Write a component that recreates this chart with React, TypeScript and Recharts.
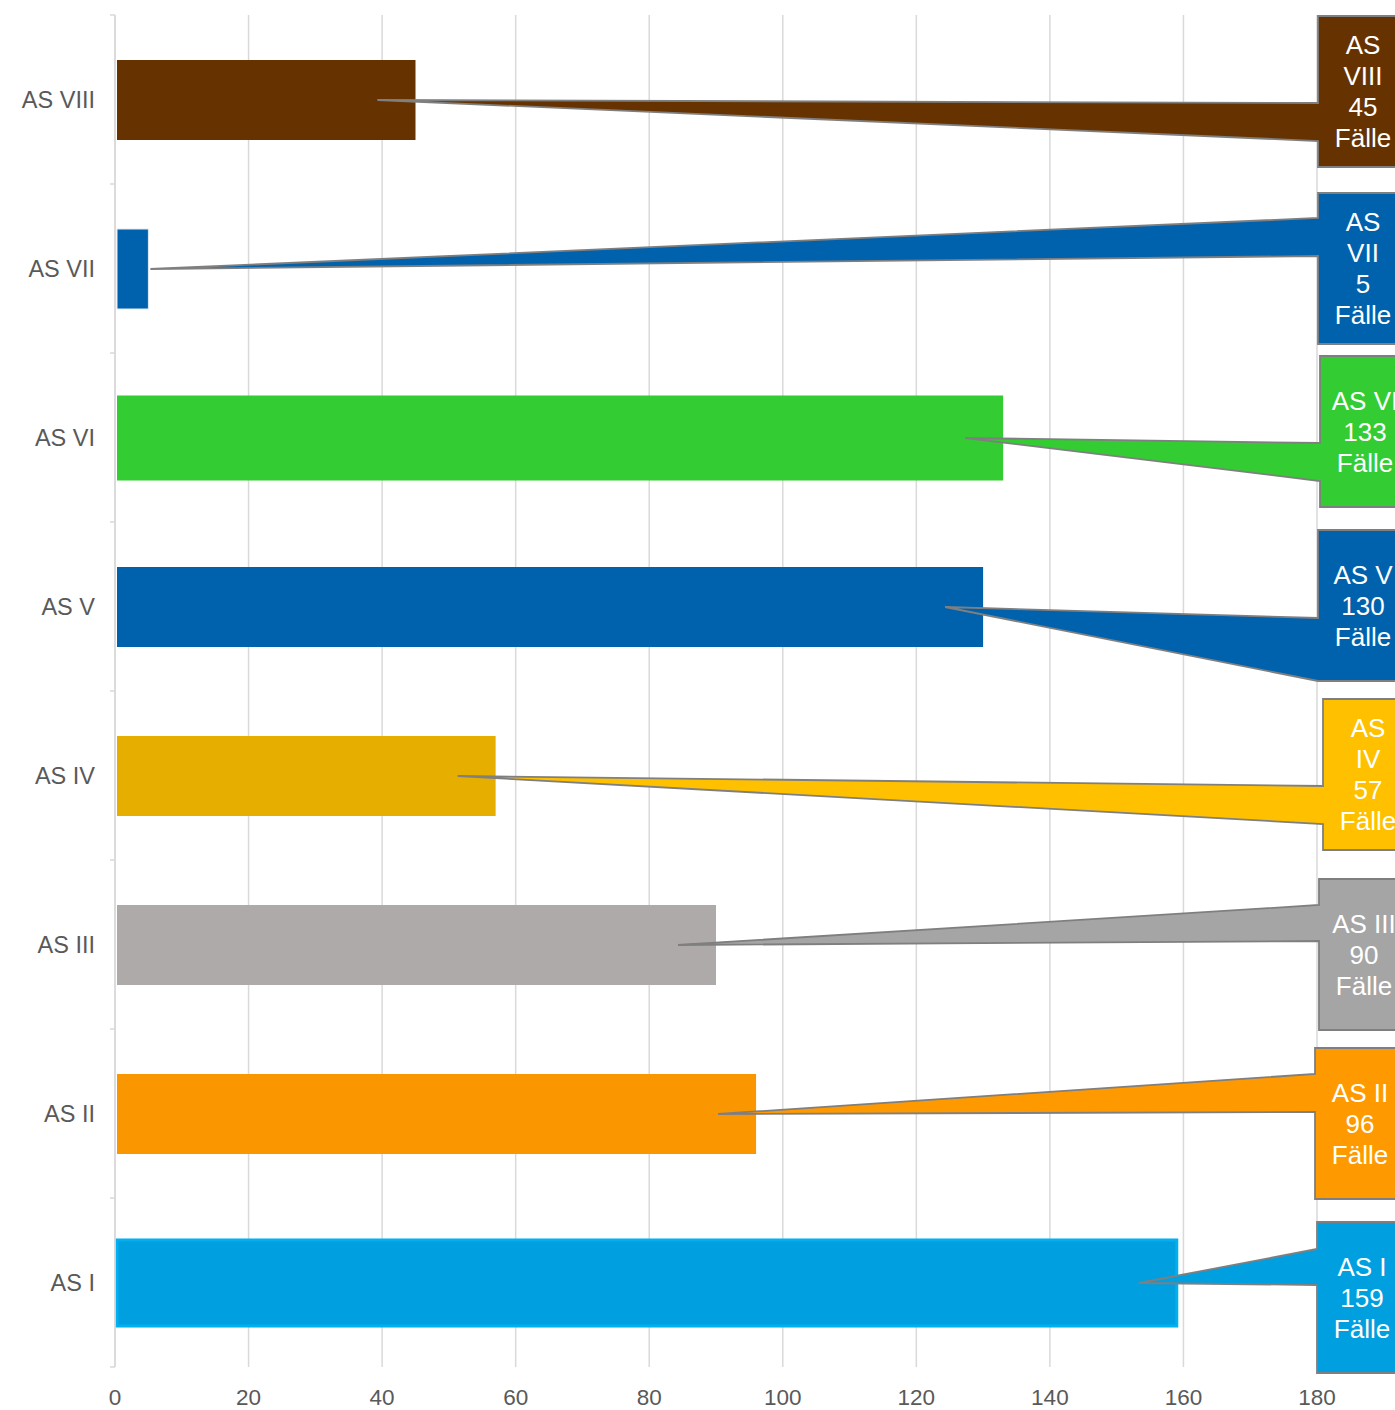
import { BarChart, Bar, XAxis, YAxis, CartesianGrid } from 'recharts'

const categories = ['AS VIII', 'AS VII', 'AS VI', 'AS V', 'AS IV', 'AS III', 'AS II', 'AS I']
const cases = [45, 5, 133, 130, 57, 90, 96, 159]
const xTicks = [0, 20, 40, 60, 80, 100, 120, 140, 160, 180]
const unitLabel = 'Fälle'

const barColors = ['#663300', '#0062AD', '#33CC33', '#0062AD', '#E6AF00', '#AEAAAA', '#FA9600', '#009FE0']
const calloutColors = ['#663300', '#0062AD', '#33CC33', '#0062AD', '#FFC000', '#A5A5A5', '#FF9900', '#009FE0']

// layout of the callout boxes (offsets in px, relative to bar center / plot right edge)
const calloutLayout = [
  { dx: 1, top: -84, wedge: [87, 125], split: true },
  { dx: 1, top: -76, wedge: [25, 63], split: true },
  { dx: 3, top: -82, wedge: [87, 125], split: false },
  { dx: 1, top: -77, wedge: [88, 151], split: false },
  { dx: 6, top: -77, wedge: [87, 125], split: true },
  { dx: 2, top: -66, wedge: [26, 62], split: false },
  { dx: -2, top: -66, wedge: [26, 64], split: false },
  { dx: 0, top: -61, wedge: [27, 63], split: false },
]
const barStyle = [
  { grow: 0, stroke: 'none', sw: 0 },
  { grow: 0, stroke: '#e3ebf5', sw: 1 },
  { grow: 2.5, stroke: 'none', sw: 0 },
  { grow: 0, stroke: 'none', sw: 0 },
  { grow: 0, stroke: 'none', sw: 0 },
  { grow: 0, stroke: 'none', sw: 0 },
  { grow: 0, stroke: 'none', sw: 0 },
  { grow: 3, stroke: '#00B0F0', sw: 3 },
]

const W = 1395
const H = 1410
const LEFT = 115
const TOP = 15
const RIGHT = 1317
const BOTTOM = 1367
const BAND = (BOTTOM - TOP) / categories.length
const FONT = '"Liberation Sans", Arial, sans-serif'

const rows = categories.map((name, i) => ({ name, value: cases[i], idx: i }))

function YTick(props: any) {
  const { y, payload, index } = props
  return (
    <g>
      <line x1={LEFT - 5} x2={LEFT} y1={y - BAND / 2} y2={y - BAND / 2} stroke="#d9d9d9" strokeWidth={1.5} />
      {index === categories.length - 1 && (
        <line x1={LEFT - 5} x2={LEFT} y1={y + BAND / 2} y2={y + BAND / 2} stroke="#d9d9d9" strokeWidth={1.5} />
      )}
      <text x={LEFT - 20} y={y} dy="0.35em" textAnchor="end" fontSize={23.5} fill="#595959" fontFamily={FONT}>
        {payload.value}
      </text>
    </g>
  )
}

function XTick(props: any) {
  const { x, payload } = props
  return (
    <text x={x} y={BOTTOM + 30} dy="0.35em" textAnchor="middle" fontSize={22.5} fill="#595959" fontFamily={FONT}>
      {payload.value}
    </text>
  )
}

function BarWithCallout(props: any) {
  const { x, y, width, height, payload } = props
  const i = payload.idx
  const st = barStyle[i]
  const lay = calloutLayout[i]
  const cy = y + height / 2
  const bx = RIGHT + lay.dx
  const top = cy + lay.top
  const bottom = top + 151
  const right = bx + 90
  const tipX = width > 60 ? x + width - 38 : x + width + 2
  const w0 = top + lay.wedge[0]
  const w1 = top + lay.wedge[1]
  const path = `M${bx},${top} L${right},${top} L${right},${bottom} L${bx},${bottom} L${bx},${w1} L${tipX},${cy} L${bx},${w0} Z`
  const lines = lay.split
    ? ['AS', payload.name.slice(3), String(payload.value), unitLabel]
    : [payload.name, String(payload.value), unitLabel]
  const mid = top + 75.5
  const start = mid - ((lines.length - 1) * 31) / 2
  return (
    <g>
      <rect
        x={x + 2}
        y={y - st.grow}
        width={Math.max(width - 2, 0)}
        height={height + st.grow * 2}
        fill={barColors[i]}
        stroke={st.stroke}
        strokeWidth={st.sw}
      />
      <path d={path} fill={calloutColors[i]} stroke="#7f7f7f" strokeWidth={1.8} strokeLinejoin="miter" />
      {lines.map((t, k) => (
        <text
          key={k}
          x={bx + 45}
          y={start + k * 31}
          dy="0.35em"
          textAnchor="middle"
          fontSize={26}
          fill="#ffffff"
          fontFamily={FONT}
        >
          {t}
        </text>
      ))}
    </g>
  )
}

export default function App() {
  return (
    <div style={{ position: 'absolute', left: 0, top: 0, width: W, height: H, background: '#fff' }}>
      <BarChart
        width={W}
        height={H}
        data={rows}
        layout="vertical"
        margin={{ top: TOP, right: W - RIGHT, bottom: 0, left: 0 }}
      >
        <CartesianGrid horizontal={false} stroke="#d9d9d9" strokeWidth={1.5} />
        <XAxis
          type="number"
          domain={[0, 180]}
          ticks={xTicks}
          interval={0}
          height={H - BOTTOM}
          axisLine={false}
          tickLine={false}
          tick={<XTick />}
        />
        <YAxis
          type="category"
          dataKey="name"
          width={LEFT}
          interval={0}
          axisLine={{ stroke: '#d9d9d9', strokeWidth: 1.5 }}
          tickLine={false}
          tick={<YTick />}
        />
        <Bar dataKey="value" barSize={80} isAnimationActive={false} shape={<BarWithCallout />} />
      </BarChart>
    </div>
  )
}
